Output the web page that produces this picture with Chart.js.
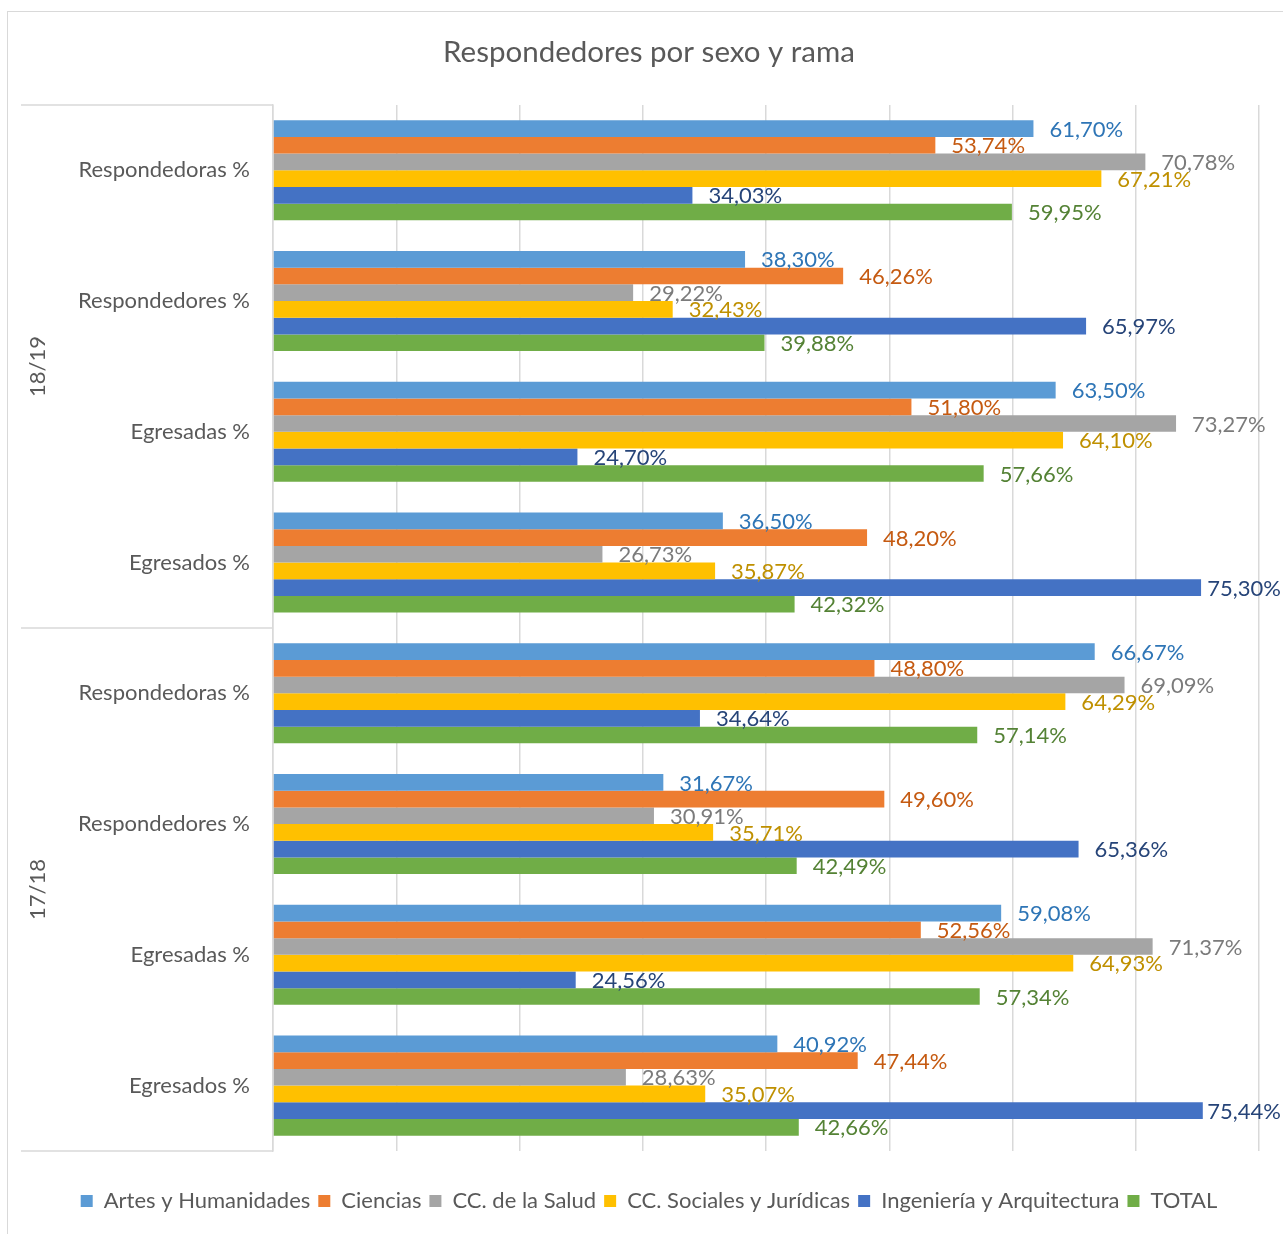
<!DOCTYPE html>
<html>
<head>
<meta charset="utf-8">
<script src="https://cdn.jsdelivr.net/npm/chart.js@4/dist/chart.umd.min.js"></script>
<style>
  html, body { margin: 0; padding: 0; background: #ffffff; overflow: hidden; width: 1283px; height: 1234px; }
  #frame { position: absolute; left: 7px; top: 11px; width: 1400px; height: 1400px; border: 1.5px solid #D9D9D9; }
  #c { position: absolute; left: 0; top: 0; }
</style>
</head>
<body>
<div id="frame"></div>
<canvas id="c" width="1298" height="1234"></canvas>
<script>
// ---- data ----
const chartTitle = 'Respondedores por sexo y rama';
const categories = ['Respondedoras %', 'Respondedores %', 'Egresadas %', 'Egresados %',
                    'Respondedoras %', 'Respondedores %', 'Egresadas %', 'Egresados %'];
const groupLabels = ['18/19', '17/18'];
const groupSizes = [4, 4];
const seriesNames = ['Artes y Humanidades', 'Ciencias', 'CC. de la Salud', 'CC. Sociales y Jurídicas', 'Ingeniería y Arquitectura', 'TOTAL'];
const artes      = [61.70, 38.30, 63.50, 36.50, 66.67, 31.67, 59.08, 40.92];
const ciencias   = [53.74, 46.26, 51.80, 48.20, 48.80, 49.60, 52.56, 47.44];
const salud      = [70.78, 29.22, 73.27, 26.73, 69.09, 30.91, 71.37, 28.63];
const sociales   = [67.21, 32.43, 64.10, 35.87, 64.29, 35.71, 64.93, 35.07];
const ingenieria = [34.03, 65.97, 24.70, 75.30, 34.64, 65.36, 24.56, 75.44];
const total      = [59.95, 39.88, 57.66, 42.32, 57.14, 42.49, 57.34, 42.66];
const xTicks = [0, 10, 20, 30, 40, 50, 60, 70, 80];

// ---- styles ----
const barColors   = ['#5B9BD5', '#ED7D31', '#A5A5A5', '#FFC000', '#4472C4', '#70AD47'];
const labelColors = ['#2E75B6', '#C55A11', '#7B7B7B', '#BF9000', '#264478', '#548235'];
const textColor = '#595959';
const gridColor = '#D9D9D9';
const FONT = 'Lato';

const seriesValues = [artes, ciencias, salud, sociales, ingenieria, total];
const datasets = seriesNames.map((name, i) => ({
  label: name,
  data: seriesValues[i],
  backgroundColor: barColors[i],
  borderWidth: 0,
  categoryPercentage: 0.765,
  barPercentage: 1.0
}));

const valueLabels = {
  id: 'valueLabels',
  afterDatasetsDraw(chart) {
    const ctx = chart.ctx;
    const limit = 1281;
    ctx.save();
    ctx.font = '22px ' + FONT;
    ctx.textBaseline = 'middle';
    ctx.textAlign = 'left';
    chart.data.datasets.forEach((ds, i) => {
      const meta = chart.getDatasetMeta(i);
      meta.data.forEach((bar, j) => {
        const txt = ds.data[j].toFixed(2).replace('.', ',') + '%';
        const w = ctx.measureText(txt).width;
        let x = bar.x + 16;
        if (x + w > limit) x = limit - w;
        ctx.fillStyle = labelColors[i];
        ctx.fillText(txt, x, bar.y + 1);
      });
    });
    ctx.restore();
  }
};

const groupAxis = {
  id: 'groupAxis',
  afterDraw(chart) {
    const ctx = chart.ctx;
    const y = chart.scales.y;
    const left = 21;
    const right = y.right;
    ctx.save();
    ctx.strokeStyle = gridColor;
    ctx.lineWidth = 1.5;
    const bounds = [y.top];
    let idx = 0;
    groupSizes.forEach(n => {
      idx += n;
      if (idx < categories.length) {
        bounds.push((y.getPixelForTick(idx - 1) + y.getPixelForTick(idx)) / 2);
      }
    });
    bounds.push(y.bottom);
    bounds.forEach(b => {
      ctx.beginPath();
      ctx.moveTo(left, b);
      ctx.lineTo(right, b);
      ctx.stroke();
    });
    ctx.fillStyle = textColor;
    ctx.font = '22px ' + FONT;
    ctx.textAlign = 'center';
    ctx.textBaseline = 'middle';
    groupLabels.forEach((g, k) => {
      const cy = (bounds[k] + bounds[k + 1]) / 2;
      ctx.save();
      ctx.translate(38, cy);
      ctx.rotate(-Math.PI / 2);
      ctx.fillText(g, 0, 0);
      ctx.restore();
    });
    ctx.restore();
  }
};

new Chart(document.getElementById('c'), {
  type: 'bar',
  data: { labels: categories, datasets },
  options: {
    indexAxis: 'y',
    responsive: false,
    devicePixelRatio: 1,
    animation: false,
    layout: { padding: { top: 0, bottom: 12, left: 0, right: 0 } },
    scales: {
      x: {
        type: 'linear',
        min: xTicks[0],
        max: xTicks[xTicks.length - 1],
        afterBuildTicks: s => { s.ticks = xTicks.map(v => ({ value: v })); },
        ticks: { display: false },
        grid: { color: gridColor, lineWidth: 1.5, drawTicks: false },
        border: { display: false },
        afterFit: s => { s.height = 31; }
      },
      y: {
        type: 'category',
        position: 'left',
        grid: { display: false, drawTicks: false },
        border: { display: true, color: gridColor, width: 1.5 },
        ticks: { color: textColor, font: { family: FONT, size: 22 }, padding: 23 },
        afterFit: s => { s.width = 273; }
      },
      yRight: {
        type: 'linear',
        position: 'right',
        display: true,
        grid: { display: false, drawTicks: false },
        border: { display: false },
        ticks: { display: false },
        afterFit: s => { s.width = 39; }
      }
    },
    plugins: {
      title: {
        display: true,
        text: chartTitle,
        color: textColor,
        font: { family: FONT, size: 29.5, weight: 'normal' },
        padding: { top: 35, bottom: 34.5 }
      },
      legend: {
        display: true,
        position: 'bottom',
        labels: {
          color: textColor,
          font: { family: FONT, size: 22 },
          boxWidth: 12,
          boxHeight: 12,
          padding: 8
        }
      },
      tooltip: { enabled: false }
    }
  },
  plugins: [valueLabels, groupAxis]
});
</script>
</body>
</html>
